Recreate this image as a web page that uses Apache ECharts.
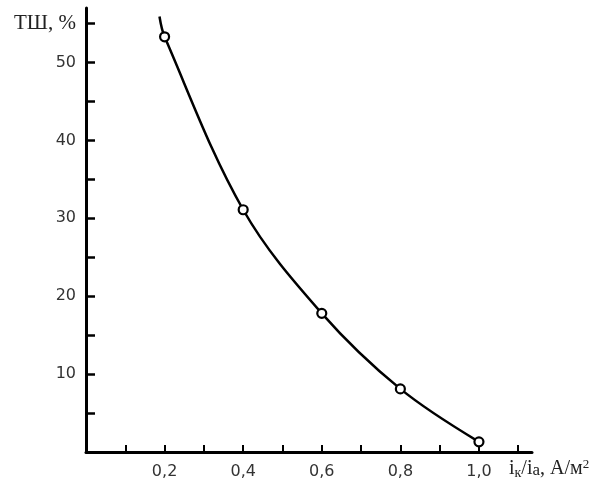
<!DOCTYPE html>
<html>
<head>
<meta charset="utf-8">
<script src="https://cdn.jsdelivr.net/npm/echarts@6/dist/echarts.min.js"></script>
<style>
    html, body { margin: 0; padding: 0; background: #fff; }
    #chart { width: 610px; height: 482px; }
</style>
</head>
<body>
<div id="chart"></div>
<script>
// ток катода / ток анода и доля шлама
const xValues = [0.187, 0.2, 0.4, 0.6, 0.8, 1.0];
const yValues = [55.9, 53.3, 31.1, 17.8, 8.1, 1.3];
// первая точка - только начало линии, без маркера
const markerShown = [false, true, true, true, true, true];

const xTicks = [0.1, 0.2, 0.3, 0.4, 0.5, 0.6, 0.7, 0.8, 0.9, 1.0, 1.1];
const xLabels = [0.2, 0.4, 0.6, 0.8, 1.0];
const yTicks = [5, 10, 15, 20, 25, 30, 35, 40, 45, 50, 55];
const yLabels = [10, 20, 30, 40, 50, 55];

const yAxisTitle = 'ТШ, %';

const chart = echarts.init(document.getElementById('chart'));

const seriesData = xValues.map((x, i) => {
    const item = { value: [x, yValues[i]] };
    if (!markerShown[i]) item.symbol = 'none';
    return item;
});

const option = {
    backgroundColor: '#fff',
    animation: false,
    grid: { left: 86, right: 78, top: 8, bottom: 30 },
    xAxis: {
        type: 'value',
        min: 0,
        max: 1.135,
        splitLine: { show: false },
        axisLine: { lineStyle: { color: '#000', width: 3 } },
        axisTick: {
            inside: true,
            length: 7,
            customValues: xTicks,
            lineStyle: { color: '#000', width: 2 }
        },
        axisLabel: {
            customValues: xLabels,
            margin: 12,
            fontFamily: 'DejaVu Sans',
            fontSize: 16,
            color: '#333',
            formatter: v => v.toFixed(1).replace('.', ',')
        },
        name: '{m|i}{s|к}{m|/i}{a|а}{m|, А/м}{p|2}',
        nameLocation: 'end',
        nameGap: -23,
        nameTextStyle: {
            align: 'left',
            verticalAlign: 'top',
            padding: [6, 0, 0, 0],
            rich: {
                m: { fontFamily: 'Liberation Serif', fontSize: 20, color: '#222' },
                s: { fontFamily: 'Liberation Serif', fontSize: 14, color: '#222', padding: [8, 0, 0, 0] },
                a: { fontFamily: 'Liberation Serif', fontSize: 17, color: '#222', padding: [4, 0, 0, 0] },
                p: { fontFamily: 'Liberation Serif', fontSize: 13, color: '#222', padding: [0, 0, 8, 0] }
            }
        }
    },
    yAxis: {
        type: 'value',
        min: 0,
        max: 57,
        splitLine: { show: false },
        axisLine: { lineStyle: { color: '#000', width: 3 } },
        axisTick: {
            inside: true,
            length: 9,
            customValues: yTicks,
            lineStyle: { color: '#000', width: 2.5 }
        },
        axisLabel: {
            customValues: yLabels,
            margin: 10,
            fontFamily: 'DejaVu Sans',
            fontSize: 16,
            color: '#333',
            formatter: v => (v === 55 ? '{t|' + yAxisTitle + '}' : String(v)),
            rich: {
                t: { fontFamily: 'Liberation Serif', fontSize: 21, color: '#222' }
            }
        }
    },
    series: [
        {
            type: 'line',
            data: seriesData,
            smooth: 0.35,
            symbol: 'circle',
            symbolSize: 9,
            lineStyle: { color: '#000', width: 2.5 },
            itemStyle: { color: '#fff', borderColor: '#000', borderWidth: 2.2 },
            z: 3
        }
    ]
};

chart.setOption(option);
</script>
</body>
</html>
